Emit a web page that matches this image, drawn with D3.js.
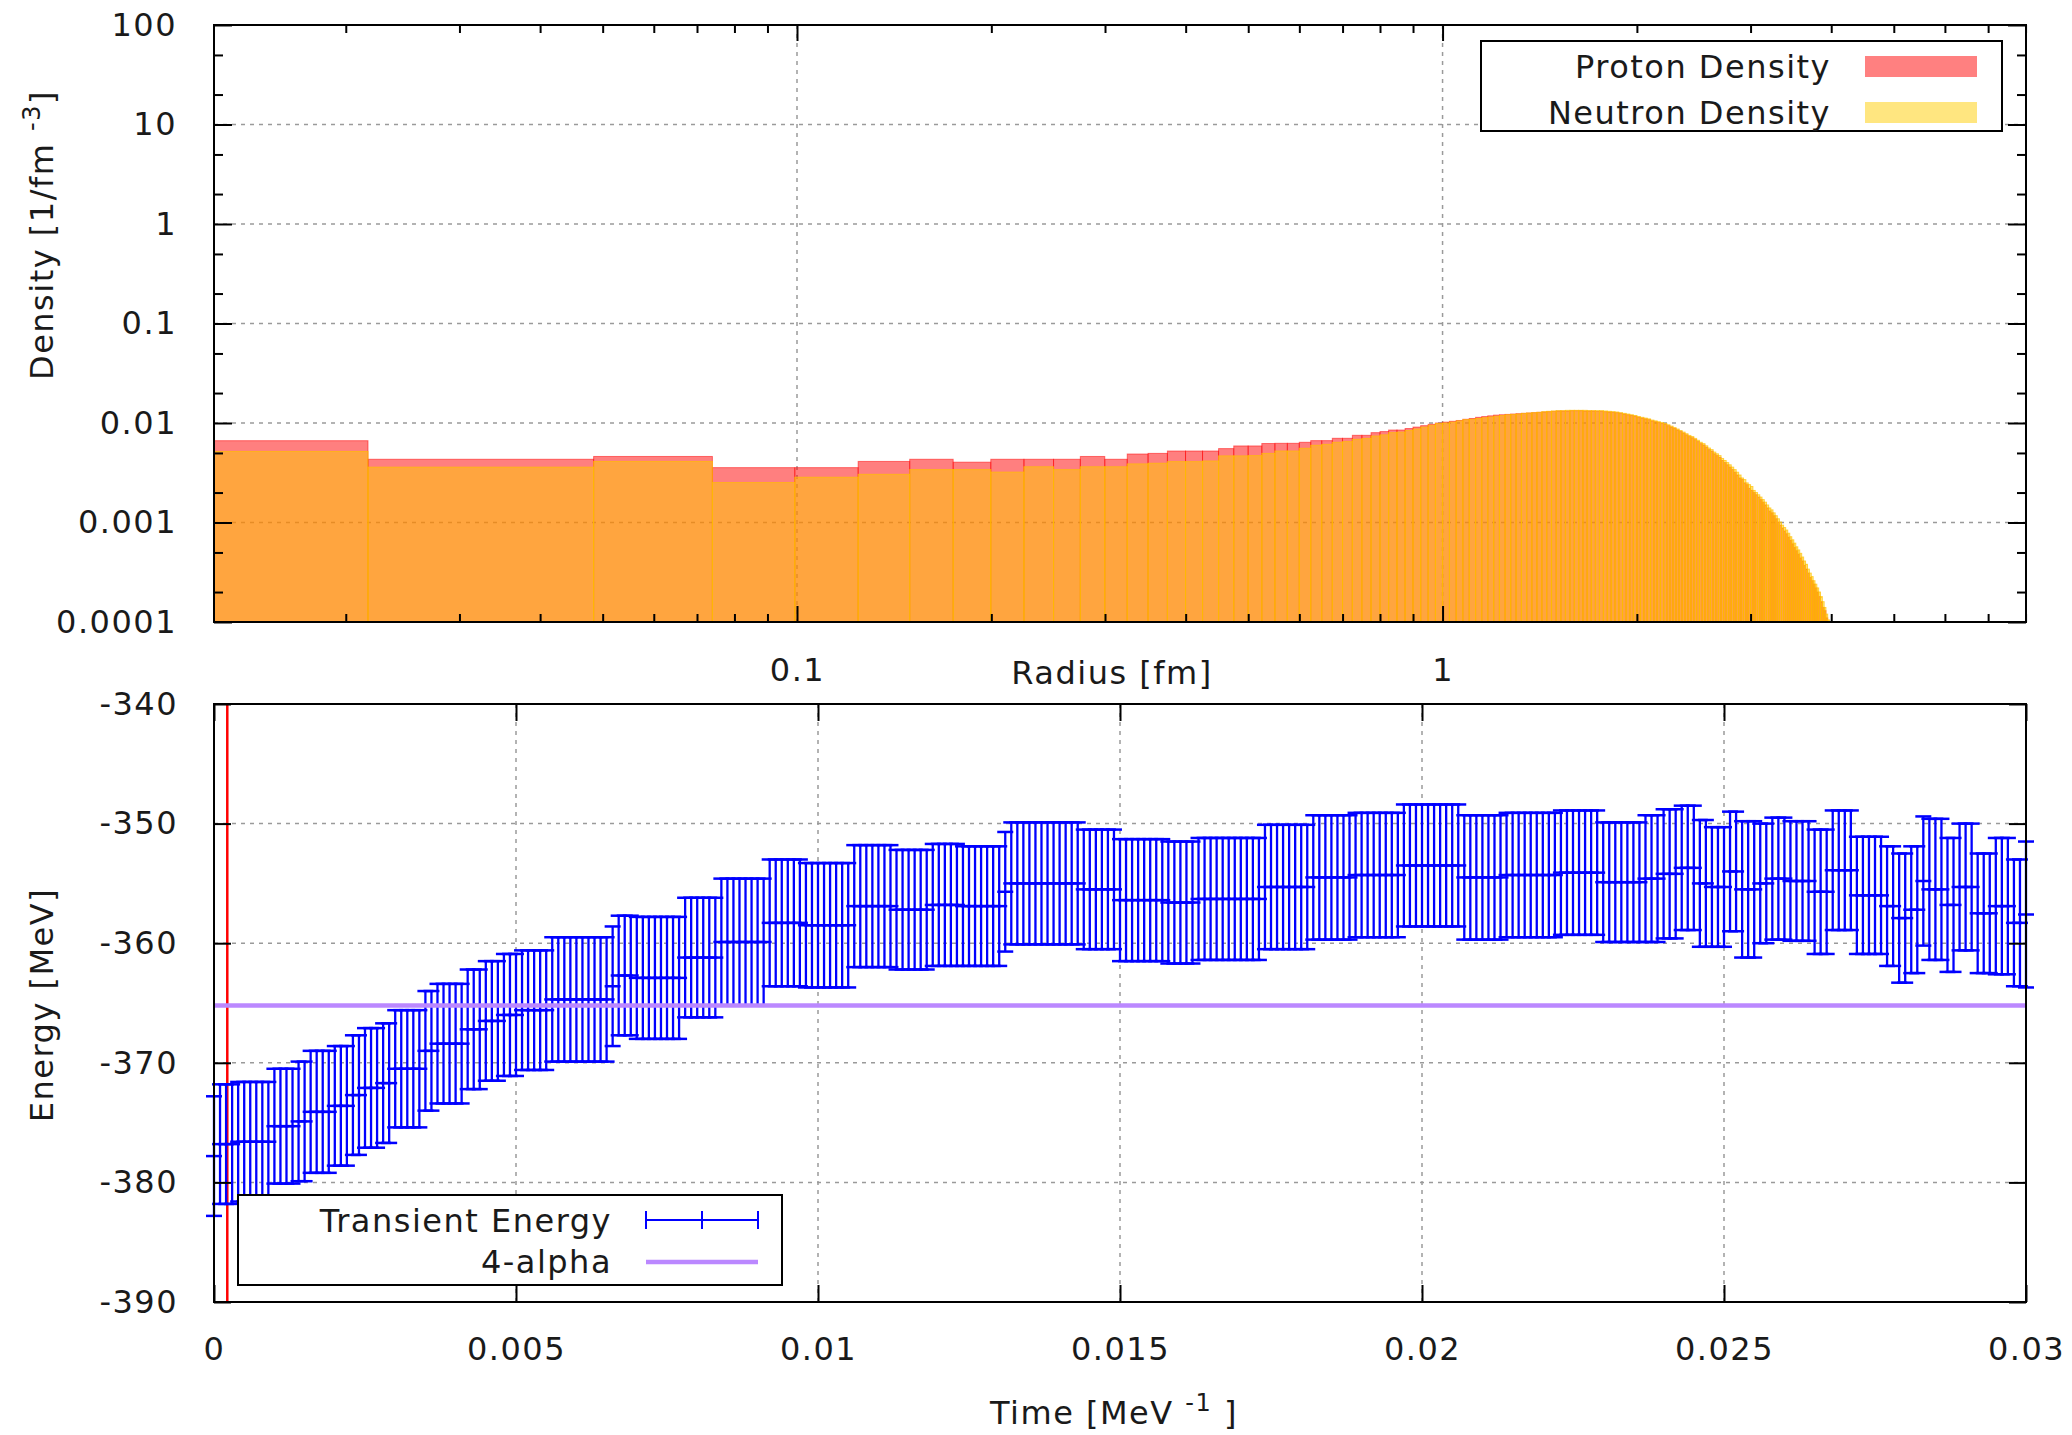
<!DOCTYPE html>
<html>
<head>
<meta charset="utf-8">
<script src="https://cdn.jsdelivr.net/npm/d3@7"></script>
<style>
body { margin: 0; background: #fff; }
text { font-family: "DejaVu Sans", sans-serif; fill: #1a1a1a; letter-spacing: 1.5px; }
</style>
</head>
<body>
<div id="svg"></div>
<script>
// ---- density histogram data (bins of 0.025 fm starting at 0.0125 fm)
var rStart = 0.0125, rStep = 0.025, rMax = 8.0125;
var protonDensity = [
 0.00664,0.00432,0.00461,0.00356,0.00356,0.00411,0.00432,0.00404,0.00432,0.00432,
 0.00432,0.00461,0.00432,0.00488,0.00495,0.00523,0.00523,0.00523,0.00553,0.00588,
 0.00588,0.00622,0.00625,0.00625,0.00640,0.00665,0.00665,0.00702,0.00702,0.00752,
 0.00752,0.00800,0.00820,0.00850,0.00850,0.00880,0.00910,0.00940,0.00970,0.01000,
 0.01020,0.01040,0.01060,0.01090,0.01110,0.01140,0.01160,0.01180,0.01200,0.01210,
 0.0122,0.0123,0.0124,0.0125,0.0126,0.0127,0.0128,0.0129,0.0130,0.0131,
 0.0132,0.0132,0.0132,0.0133,0.0133,0.0133,0.0132,0.0132,0.0132,0.0131,
 0.0131,0.0130,0.0129,0.0128,0.0127,0.0125,0.0123,0.0121,0.0119,0.0117,
 0.0114,0.0112,0.0110,0.0108,0.0105,0.0103,0.0101,0.0099,0.0097,0.0094,
 0.0091,0.0088,0.0085,0.0082,0.0079,0.0076,0.0073,0.0071,0.0068,0.0065,
 0.0062,0.0060,0.0057,0.0054,0.0052,0.0049,0.0047,0.0045,0.0042,0.0040,
 0.0038,0.0036,0.0034,0.0032,0.0030,0.0028,0.0027,0.0025,0.0024,0.0022,
 0.0021,0.0020,0.0019,0.0018,0.0017,0.0016,0.0015,0.0014,0.0013,0.00125,
 0.00117,0.00109,0.00101,0.00094,0.00088,0.00082,0.00077,0.00071,0.00066,0.00061,
 0.00056,0.00052,0.00048,0.00044,0.00041,0.00037,0.00034,0.00031,0.00028,0.00026,
 0.00024,0.00022,0.00020,0.00018,0.00016,0.00014,0.00013,0.00011,0.000095,0.00008,
 0.00007
];
var neutronDensity = [
 0.00518,0.00360,0.00411,0.00252,0.00285,0.00305,0.00340,0.00340,0.00321,0.00363,
 0.00340,0.00363,0.00363,0.00388,0.00394,0.00409,0.00409,0.00415,0.00467,0.00467,
 0.00470,0.00495,0.00523,0.00523,0.00557,0.00597,0.00610,0.00640,0.00650,0.00686,
 0.00700,0.00740,0.00760,0.00800,0.00810,0.00840,0.00870,0.00910,0.00950,0.00990,
 0.01000,0.01020,0.01050,0.01080,0.01090,0.01110,0.01130,0.01150,0.01170,0.01190,
 0.0121,0.0122,0.0123,0.0125,0.0126,0.0127,0.0128,0.0130,0.0131,0.0132,
 0.0133,0.0133,0.0134,0.0134,0.0134,0.0134,0.0134,0.0133,0.0133,0.0133,
 0.0133,0.0132,0.0131,0.0130,0.0129,0.0127,0.0125,0.0123,0.0121,0.0119,
 0.0116,0.0114,0.0112,0.0110,0.0107,0.0105,0.0103,0.0101,0.0099,0.0096,
 0.0093,0.0090,0.0087,0.0084,0.0081,0.0078,0.0075,0.0073,0.0070,0.0067,
 0.0064,0.0062,0.0059,0.0056,0.0054,0.0051,0.0049,0.0047,0.0044,0.0042,
 0.0040,0.0038,0.0036,0.0034,0.0032,0.0030,0.0028,0.0027,0.0025,0.0024,
 0.0023,0.0021,0.0020,0.0019,0.0018,0.0017,0.0016,0.0015,0.0014,0.00134,
 0.00125,0.00117,0.00109,0.00101,0.00094,0.00089,0.00084,0.00078,0.00072,0.00067,
 0.00062,0.00057,0.00053,0.00049,0.00045,0.00041,0.00038,0.00034,0.00031,0.000286,
 0.00026,0.00024,0.00022,0.00020,0.00018,0.00016,0.00014,0.00012,0.000105,0.00009,
 0.00008
];
var radiusTicks = [0.1, 1];
var radiusTickLabels = ["0.1", "1"];
var densityTicks = [1e-4, 1e-3, 1e-2, 1e-1, 1, 10, 100];
var densityTickLabels = ["0.0001", "0.001", "0.01", "0.1", "1", "10", "100"];

// ---- transient energy data (one point every 0.0001 MeV^-1)
var timeStep = 0.0001;
var energyMean = [
 -377.8,-376.8,-376.8,-376.8,-376.6,-376.6,-376.6,-376.6,-376.6,-376.6,
 -375.3,-375.3,-375.3,-375.3,-374.9,-374.9,-374.1,-374.1,-374.1,-374.1,
 -373.6,-373.6,-373.6,-372.7,-372.7,-372.1,-372.1,-372.1,-371.7,-371.7,
 -370.5,-370.5,-370.5,-370.5,-370.5,-369.0,-369.0,-368.4,-368.4,-368.4,
 -368.4,-368.4,-367.2,-367.2,-367.2,-366.5,-366.5,-366.5,-366.0,-366.0,
 -366.0,-365.6,-365.6,-365.6,-365.6,-365.6,-364.7,-364.7,-364.7,-364.7,
 -364.7,-364.7,-364.7,-364.7,-364.7,-364.7,-363.6,-362.7,-362.7,-362.7,
 -362.9,-362.9,-362.9,-362.9,-362.9,-362.9,-362.9,-362.9,-361.2,-361.2,
 -361.2,-361.2,-361.2,-361.2,-359.9,-359.9,-359.9,-359.9,-359.9,-359.9,
 -359.9,-359.9,-358.3,-358.3,-358.3,-358.3,-358.3,-358.3,-358.5,-358.5,
 -358.5,-358.5,-358.5,-358.5,-358.5,-358.5,-356.9,-356.9,-356.9,-356.9,
 -356.9,-356.9,-356.9,-357.2,-357.2,-357.2,-357.2,-357.2,-357.2,-356.8,
 -356.8,-356.8,-356.8,-356.8,-356.9,-356.9,-356.9,-356.9,-356.9,-356.9,
 -356.9,-355.7,-355.0,-355.0,-355.0,-355.0,-355.0,-355.0,-355.0,-355.0,
 -355.0,-355.0,-355.0,-355.0,-355.5,-355.5,-355.5,-355.5,-355.5,-355.5,
 -356.4,-356.4,-356.4,-356.4,-356.4,-356.4,-356.4,-356.4,-356.6,-356.6,
 -356.6,-356.6,-356.6,-356.3,-356.3,-356.3,-356.3,-356.3,-356.3,-356.3,
 -356.3,-356.3,-356.3,-356.3,-355.3,-355.3,-355.3,-355.3,-355.3,-355.3,
 -355.3,-355.3,-354.5,-354.5,-354.5,-354.5,-354.5,-354.5,-354.5,-354.3,
 -354.3,-354.3,-354.3,-354.3,-354.3,-354.3,-354.3,-353.5,-353.5,-353.5,
 -353.5,-353.5,-353.5,-353.5,-353.5,-353.5,-353.5,-354.5,-354.5,-354.5,
 -354.5,-354.5,-354.5,-354.5,-354.3,-354.3,-354.3,-354.3,-354.3,-354.3,
 -354.3,-354.3,-354.3,-354.1,-354.1,-354.1,-354.1,-354.1,-354.1,-354.1,
 -354.9,-354.9,-354.9,-354.9,-354.9,-354.9,-354.9,-354.6,-354.6,-354.6,
 -354.2,-354.2,-354.2,-353.7,-353.7,-353.7,-355.0,-355.0,-355.3,-355.3,
 -355.3,-354.0,-354.0,-355.5,-355.5,-355.5,-355.0,-355.0,-354.6,-354.6,
 -354.6,-354.8,-354.8,-354.8,-354.8,-355.7,-355.7,-355.7,-353.9,-353.9,
 -353.9,-353.9,-356.0,-356.0,-356.0,-356.0,-356.0,-356.9,-356.9,-357.9,
 -357.9,-357.2,-357.2,-354.8,-355.5,-355.5,-355.5,-356.8,-356.8,-355.3,
 -355.3,-355.3,-357.5,-357.5,-357.5,-356.9,-356.9,-356.9,-358.3,-358.3,
 -357.6
];
var energyErr = [
 5.0,5.0,5.0,5.0,5.0,5.0,5.0,5.0,5.0,5.0,
 4.8,4.8,4.8,4.8,5.0,5.0,5.1,5.1,5.1,5.1,
 5.0,5.0,5.0,5.0,5.0,5.0,5.0,5.0,5.0,5.0,
 4.9,4.9,4.9,4.9,4.9,5.0,5.0,5.0,5.0,5.0,
 5.0,5.0,5.0,5.0,5.0,5.0,5.0,5.0,5.1,5.1,
 5.1,5.0,5.0,5.0,5.0,5.0,5.2,5.2,5.2,5.2,
 5.2,5.2,5.2,5.2,5.2,5.2,5.0,5.0,5.0,5.0,
 5.1,5.1,5.1,5.1,5.1,5.1,5.1,5.1,5.0,5.0,
 5.0,5.0,5.0,5.0,5.3,5.3,5.3,5.3,5.3,5.3,
 5.3,5.3,5.3,5.3,5.3,5.3,5.3,5.3,5.2,5.2,
 5.2,5.2,5.2,5.2,5.2,5.2,5.1,5.1,5.1,5.1,
 5.1,5.1,5.1,5.0,5.0,5.0,5.0,5.0,5.0,5.1,
 5.1,5.1,5.1,5.1,5.0,5.0,5.0,5.0,5.0,5.0,
 5.0,5.0,5.1,5.1,5.1,5.1,5.1,5.1,5.1,5.1,
 5.1,5.1,5.1,5.1,5.0,5.0,5.0,5.0,5.0,5.0,
 5.1,5.1,5.1,5.1,5.1,5.1,5.1,5.1,5.1,5.1,
 5.1,5.1,5.1,5.1,5.1,5.1,5.1,5.1,5.1,5.1,
 5.1,5.1,5.1,5.1,5.2,5.2,5.2,5.2,5.2,5.2,
 5.2,5.2,5.2,5.2,5.2,5.2,5.2,5.2,5.2,5.2,
 5.2,5.2,5.2,5.2,5.2,5.2,5.2,5.1,5.1,5.1,
 5.1,5.1,5.1,5.1,5.1,5.1,5.1,5.2,5.2,5.2,
 5.2,5.2,5.2,5.2,5.2,5.2,5.2,5.2,5.2,5.2,
 5.2,5.2,5.2,5.2,5.2,5.2,5.2,5.2,5.2,5.2,
 5.0,5.0,5.0,5.0,5.0,5.0,5.0,5.3,5.3,5.3,
 5.4,5.4,5.4,5.2,5.2,5.2,5.3,5.3,5.0,5.0,
 5.0,5.0,5.0,5.7,5.7,5.7,5.0,5.0,5.1,5.1,
 5.1,5.0,5.0,5.0,5.0,5.2,5.2,5.2,5.0,5.0,
 5.0,5.0,4.9,4.9,4.9,4.9,4.9,5.0,5.0,5.4,
 5.4,5.3,5.3,5.4,5.9,5.9,5.9,5.6,5.6,5.3,
 5.3,5.3,5.0,5.0,5.0,5.7,5.7,5.7,5.3,5.3,
 6.1
];
var alphaEnergy = -365.2;
var markerTime = 0.00022;
var timeTicks = [0, 0.005, 0.01, 0.015, 0.02, 0.025, 0.03];
var timeTickLabels = ["0", "0.005", "0.01", "0.015", "0.02", "0.025", "0.03"];
var energyTicks = [-390, -380, -370, -360, -350, -340];
var energyTickLabels = ["-390", "-380", "-370", "-360", "-350", "-340"];

var svg = d3.select("#svg")
    .append("svg")
    .attr("width", 2072)
    .attr("height", 1435);

var gridColor = "#9a9a9a";

function styleAxis(g){
    g.select(".domain").remove();
    g.selectAll("line").attr("stroke", "#000").attr("stroke-width", 2);
    g.selectAll("text").style("font-size", "32px").attr("fill", null);
}

function isMajorLog(d){
    var l = Math.log10(d);
    return Math.abs(l - Math.round(l)) < 1e-6;
}

function drawDensity(){
    var left = 214, right = 2026, top = 25, bottom = 622;

    var x = d3.scaleLog().domain([rStart, rMax]).range([left, right]);
    var y = d3.scaleLog().domain([1e-4, 100]).range([bottom, top]);

    svg.append("clipPath").attr("id", "clipTop")
        .append("rect")
        .attr("x", left).attr("y", top)
        .attr("width", right - left).attr("height", bottom - top);

    // grid
    svg.append("g").selectAll("line")
        .data(densityTicks.slice(1, -1))
        .enter().append("line")
        .attr("x1", left).attr("x2", right)
        .attr("y1", function(d){ return y(d); })
        .attr("y2", function(d){ return y(d); })
        .attr("stroke", gridColor).attr("stroke-width", 1.5)
        .attr("stroke-dasharray", "4,5");
    svg.append("g").selectAll("line")
        .data(radiusTicks)
        .enter().append("line")
        .attr("y1", top).attr("y2", bottom)
        .attr("x1", function(d){ return x(d); })
        .attr("x2", function(d){ return x(d); })
        .attr("stroke", gridColor).attr("stroke-width", 1.5)
        .attr("stroke-dasharray", "4,5");

    // bin edges: halfway (in log) between neighbouring radii
    function edges(vals){
        var c = vals.map(function(d, i){ return rStart + i * rStep; });
        return vals.map(function(v, i){
            var lo = i > 0 ? Math.sqrt(c[i-1] * c[i]) : c[i] * c[i] / Math.sqrt(c[i] * c[i+1]);
            var hi = i < c.length - 1 ? Math.sqrt(c[i] * c[i+1]) : c[i] * c[i] / Math.sqrt(c[i-1] * c[i]);
            return {v: v, lo: lo, hi: hi};
        });
    }

    function bars(vals, fill, stroke, strokeOp){
        svg.append("g")
            .attr("clip-path", "url(#clipTop)")
            .selectAll("rect")
            .data(edges(vals))
            .enter()
            .append("rect")
            .attr("x", function(d){ return x(d.lo); })
            .attr("width", function(d){ return x(d.hi) - x(d.lo); })
            .attr("y", function(d){ return Math.min(bottom, y(d.v)); })
            .attr("height", function(d){ return Math.max(0, bottom - y(d.v)); })
            .attr("fill", fill)
            .attr("fill-opacity", 0.5)
            .attr("stroke", stroke)
            .attr("stroke-opacity", strokeOp)
            .attr("stroke-width", 1);
    }
    bars(protonDensity, "#ff0000", "#ff0000", 0.5);
    bars(neutronDensity, "#ffcc00", "#ffc000", 0.7);

    // minor ticks
    var xMinor = x.ticks().filter(function(d){ return !isMajorLog(d); });
    var yMinor = y.ticks().filter(function(d){
        var m = Math.round(d / Math.pow(10, Math.floor(Math.log10(d) + 1e-9)));
        return m == 2 || m == 5;
    });

    // y axis left / right
    svg.append("g")
        .attr("transform", "translate(" + left + ",0)")
        .call(d3.axisLeft(y).tickValues(densityTicks).tickSize(-18).tickPadding(37)
            .tickFormat(function(d, i){ return densityTickLabels[i]; }))
        .call(styleAxis);
    svg.append("g")
        .attr("transform", "translate(" + left + ",0)")
        .call(d3.axisLeft(y).tickValues(yMinor).tickSize(-9).tickFormat(""))
        .call(styleAxis);
    svg.append("g")
        .attr("transform", "translate(" + right + ",0)")
        .call(d3.axisRight(y).tickValues(densityTicks).tickSize(-18).tickFormat(""))
        .call(styleAxis);
    svg.append("g")
        .attr("transform", "translate(" + right + ",0)")
        .call(d3.axisRight(y).tickValues(yMinor).tickSize(-9).tickFormat(""))
        .call(styleAxis);

    // x axis bottom / top
    svg.append("g")
        .attr("transform", "translate(0," + bottom + ")")
        .call(d3.axisBottom(x).tickValues(radiusTicks).tickSize(-16).tickPadding(36)
            .tickFormat(function(d, i){ return radiusTickLabels[i]; }))
        .call(styleAxis);
    svg.append("g")
        .attr("transform", "translate(0," + bottom + ")")
        .call(d3.axisBottom(x).tickValues(xMinor).tickSize(-8).tickFormat(""))
        .call(styleAxis);
    svg.append("g")
        .attr("transform", "translate(0," + top + ")")
        .call(d3.axisTop(x).tickValues(radiusTicks).tickSize(-16).tickFormat(""))
        .call(styleAxis);
    svg.append("g")
        .attr("transform", "translate(0," + top + ")")
        .call(d3.axisTop(x).tickValues(xMinor).tickSize(-8).tickFormat(""))
        .call(styleAxis);

    // border
    svg.append("rect")
        .attr("x", left).attr("y", top)
        .attr("width", right - left).attr("height", bottom - top)
        .attr("fill", "none").attr("stroke", "#000").attr("stroke-width", 2);

    // axis labels
    svg.append("text")
        .attr("x", 1112).attr("y", 684)
        .attr("text-anchor", "middle")
        .style("font-size", "32px")
        .text("Radius [fm]");
    var yl = svg.append("text")
        .attr("transform", "translate(53,235) rotate(-90)")
        .attr("text-anchor", "middle")
        .style("font-size", "32px");
    yl.append("tspan").text("Density [1/fm ");
    yl.append("tspan").attr("dy", -13).style("font-size", "24px").text("-3");
    yl.append("tspan").attr("dy", 13).text("]");

    // legend
    svg.append("rect")
        .attr("x", 1481).attr("y", 41)
        .attr("width", 521).attr("height", 90)
        .attr("fill", "#fff").attr("stroke", "#000").attr("stroke-width", 2);
    var items = [
        {name: "Proton Density", color: "#ff8080", cy: 66},
        {name: "Neutron Density", color: "#ffe680", cy: 112}
    ];
    items.forEach(function(d){
        svg.append("text")
            .attr("x", 1831).attr("y", d.cy + 12)
            .attr("text-anchor", "end")
            .style("font-size", "32px")
            .text(d.name);
        svg.append("rect")
            .attr("x", 1865).attr("y", d.cy - 10)
            .attr("width", 112).attr("height", 21)
            .attr("fill", d.color);
    });
}

function drawEnergy(){
    var left = 214, right = 2026, top = 704, bottom = 1302;

    var x = d3.scaleLinear().domain([0, 0.03]).range([left, right]);
    var y = d3.scaleLinear().domain([-390, -340]).range([bottom, top]);

    // grid
    svg.append("g").selectAll("line")
        .data(energyTicks.slice(1, -1))
        .enter().append("line")
        .attr("x1", left).attr("x2", right)
        .attr("y1", function(d){ return y(d); })
        .attr("y2", function(d){ return y(d); })
        .attr("stroke", gridColor).attr("stroke-width", 1.5)
        .attr("stroke-dasharray", "4,5");
    svg.append("g").selectAll("line")
        .data(timeTicks.slice(1, -1))
        .enter().append("line")
        .attr("y1", top).attr("y2", bottom)
        .attr("x1", function(d){ return x(d); })
        .attr("x2", function(d){ return x(d); })
        .attr("stroke", gridColor).attr("stroke-width", 1.5)
        .attr("stroke-dasharray", "4,5");

    // red marker line
    svg.append("line")
        .attr("x1", x(markerTime)).attr("x2", x(markerTime))
        .attr("y1", top).attr("y2", bottom)
        .attr("stroke", "#ff0000").attr("stroke-width", 2.5);

    // error bars
    var pts = energyMean.map(function(m, i){ return {t: i * timeStep, m: m, e: energyErr[i]}; });
    var eb = svg.append("g")
        .attr("stroke", "#0000ff")
        .attr("stroke-width", 2.3)
        .selectAll("g")
        .data(pts)
        .enter()
        .append("g");
    eb.append("line")
        .attr("x1", function(d){ return x(d.t); })
        .attr("x2", function(d){ return x(d.t); })
        .attr("y1", function(d){ return y(d.m - d.e); })
        .attr("y2", function(d){ return y(d.m + d.e); });
    [-1, 0, 1].forEach(function(k){
        eb.append("line")
            .attr("x1", function(d){ return x(d.t) - 8; })
            .attr("x2", function(d){ return x(d.t) + 8; })
            .attr("y1", function(d){ return y(d.m + k * d.e); })
            .attr("y2", function(d){ return y(d.m + k * d.e); })
            .attr("stroke-width", 2.5);
    });

    // 4-alpha threshold
    svg.append("line")
        .attr("x1", left).attr("x2", right)
        .attr("y1", y(alphaEnergy)).attr("y2", y(alphaEnergy))
        .attr("stroke", "#bb88ff").attr("stroke-width", 4.5);

    // axes
    svg.append("g")
        .attr("transform", "translate(" + left + ",0)")
        .call(d3.axisLeft(y).tickValues(energyTicks).tickSize(-17).tickPadding(36)
            .tickFormat(function(d, i){ return energyTickLabels[i]; }))
        .call(styleAxis);
    svg.append("g")
        .attr("transform", "translate(" + right + ",0)")
        .call(d3.axisRight(y).tickValues(energyTicks).tickSize(-17).tickFormat(""))
        .call(styleAxis);
    svg.append("g")
        .attr("transform", "translate(0," + bottom + ")")
        .call(d3.axisBottom(x).tickValues(timeTicks).tickSize(-17).tickPadding(35)
            .tickFormat(function(d, i){ return timeTickLabels[i]; }))
        .call(styleAxis);
    svg.append("g")
        .attr("transform", "translate(0," + top + ")")
        .call(d3.axisTop(x).tickValues(timeTicks).tickSize(-17).tickFormat(""))
        .call(styleAxis);

    svg.append("rect")
        .attr("x", left).attr("y", top)
        .attr("width", right - left).attr("height", bottom - top)
        .attr("fill", "none").attr("stroke", "#000").attr("stroke-width", 2);

    // axis labels
    var xl = svg.append("text")
        .attr("x", 1114).attr("y", 1424)
        .attr("text-anchor", "middle")
        .style("font-size", "32px");
    xl.append("tspan").text("Time [MeV ");
    xl.append("tspan").attr("dy", -13).style("font-size", "24px").text("-1");
    xl.append("tspan").attr("dy", 13).text(" ]");
    svg.append("text")
        .attr("transform", "translate(53,1005) rotate(-90)")
        .attr("text-anchor", "middle")
        .style("font-size", "32px")
        .text("Energy [MeV]");

    // legend
    svg.append("rect")
        .attr("x", 238).attr("y", 1195)
        .attr("width", 544).attr("height", 90)
        .attr("fill", "#fff").attr("stroke", "#000").attr("stroke-width", 2);
    svg.append("text")
        .attr("x", 612).attr("y", 1232)
        .attr("text-anchor", "end")
        .style("font-size", "32px")
        .text("Transient Energy");
    svg.append("text")
        .attr("x", 612).attr("y", 1273)
        .attr("text-anchor", "end")
        .style("font-size", "32px")
        .text("4-alpha");
    var lg = svg.append("g").attr("stroke", "#0000ff").attr("stroke-width", 2);
    lg.append("line").attr("x1", 646).attr("x2", 758).attr("y1", 1220).attr("y2", 1220);
    [646, 702, 758].forEach(function(px){
        lg.append("line").attr("x1", px).attr("x2", px).attr("y1", 1211).attr("y2", 1229);
    });
    svg.append("line")
        .attr("x1", 646).attr("x2", 758)
        .attr("y1", 1262).attr("y2", 1262)
        .attr("stroke", "#bb88ff").attr("stroke-width", 4.5);
}

drawDensity();
drawEnergy();
</script>
</body>
</html>
